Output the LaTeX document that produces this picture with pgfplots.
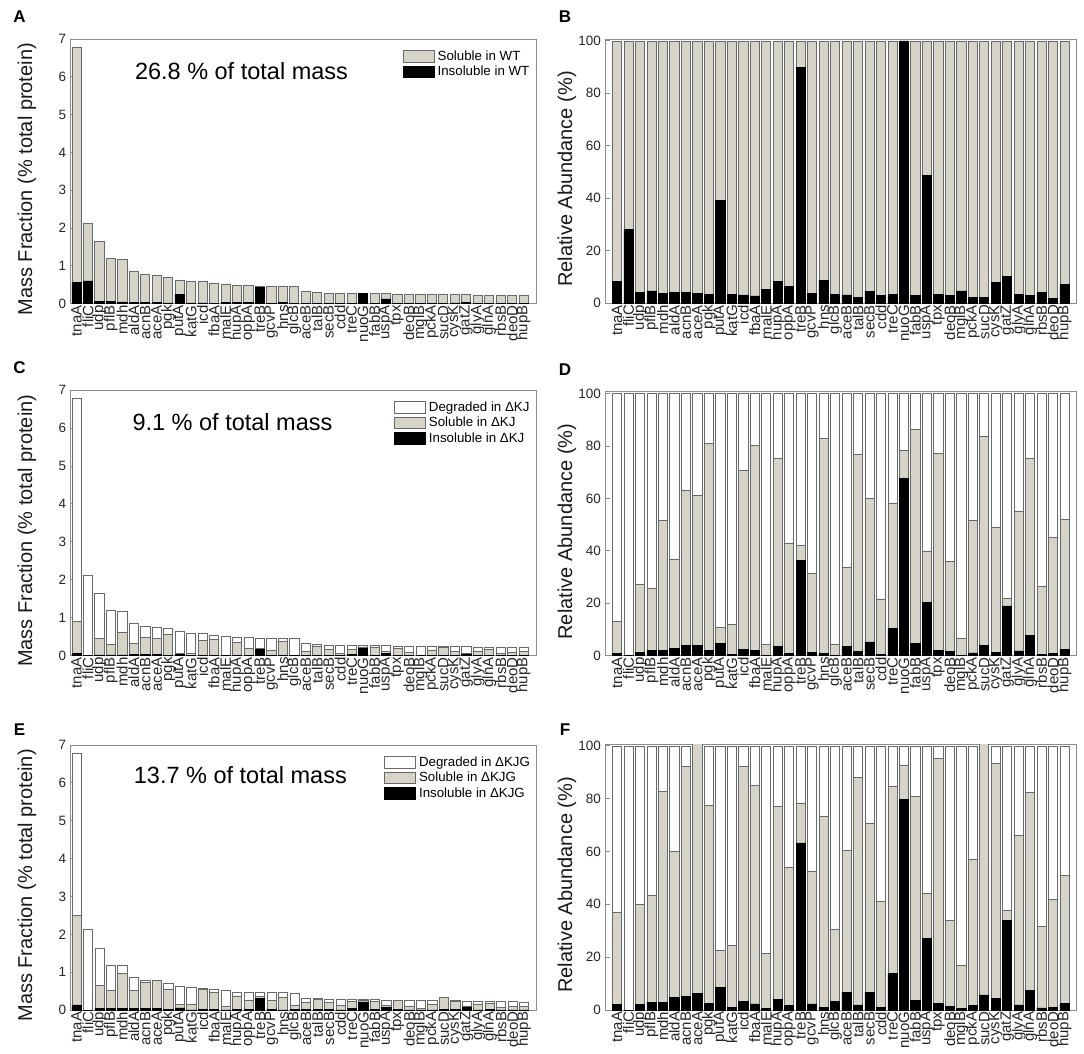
\documentclass[border=0pt]{standalone}
\usepackage{fontspec}
\setmainfont{Liberation Sans}
\usepackage{pgfplots}
\pgfplotsset{compat=1.18}
\usepackage{pgfplotstable}
\definecolor{solgray}{RGB}{214,212,200}
\definecolor{barline}{RGB}{105,105,105}
\definecolor{framegray}{RGB}{140,140,140}

\pgfplotstableread{
x sol ins
1 6.77 0.569
2 2.13 0.603
3 1.64 0.069
4 1.19 0.056
5 1.17 0.046
6 0.86 0.036
7 0.78 0.034
8 0.76 0.030
9 0.71 0.023
10 0.63 0.248
11 0.60 0.021
12 0.58 0.019
13 0.55 0.015
14 0.51 0.027
15 0.48 0.040
16 0.48 0.030
17 0.47 0.423
18 0.47 0.018
19 0.46 0.040
20 0.45 0.016
21 0.32 0.010
22 0.31 0.007
23 0.28 0.013
24 0.28 0.008
25 0.28 0.010
26 0.27 0.270
27 0.27 0.008
28 0.265 0.129
29 0.26 0.009
30 0.26 0.008
31 0.26 0.012
32 0.26 0.006
33 0.25 0.006
34 0.25 0.020
35 0.24 0.025
36 0.23 0.008
37 0.23 0.007
38 0.23 0.010
39 0.22 0.004
40 0.21 0.015
}\tabA

\pgfplotstableread{
x sol ins
1 100 8.4
2 100 28.3
3 100 4.2
4 100 4.7
5 100 3.9
6 100 4.2
7 100 4.3
8 100 3.9
9 100 3.3
10 100 39.3
11 100 3.5
12 100 3.2
13 100 2.8
14 100 5.3
15 100 8.4
16 100 6.3
17 100 90.0
18 100 3.9
19 100 8.6
20 100 3.5
21 100 3.2
22 100 2.4
23 100 4.6
24 100 3.0
25 100 3.4
26 100 100
27 100 3.0
28 100 48.8
29 100 3.3
30 100 3.0
31 100 4.7
32 100 2.3
33 100 2.4
34 100 8.0
35 100 10.4
36 100 3.5
37 100 2.9
38 100 4.2
39 100 1.9
40 100 7.2
}\tabB

\pgfplotstableread{
x deg sol ins
1 6.77 0.894 0.061
2 2.13 0 0
3 1.64 0.449 0.023
4 1.19 0.308 0.023
5 1.17 0.604 0.022
6 0.86 0.317 0.024
7 0.78 0.493 0.030
8 0.76 0.464 0.030
9 0.71 0.575 0.013
10 0.63 0.068 0.029
11 0.60 0.071 0.003
12 0.58 0.410 0.013
13 0.55 0.442 0.010
14 0.51 0.022 0.001
15 0.48 0.362 0.017
16 0.48 0.206 0.005
17 0.47 0.199 0.172
18 0.47 0.147 0.006
19 0.46 0.382 0.005
20 0.45 0.019 0.001
21 0.32 0.108 0.011
22 0.31 0.239 0.005
23 0.28 0.168 0.015
24 0.28 0.061 0.001
25 0.28 0.163 0.029
26 0.27 0.211 0.182
27 0.27 0.233 0.013
28 0.265 0.106 0.054
29 0.26 0.201 0.005
30 0.26 0.094 0.004
31 0.26 0.017 0.001
32 0.26 0.134 0.003
33 0.25 0.209 0.010
34 0.25 0.123 0.003
35 0.24 0.052 0.046
36 0.23 0.127 0.004
37 0.23 0.173 0.018
38 0.23 0.061 0.001
39 0.22 0.099 0.002
40 0.21 0.109 0.005
}\tabC

\pgfplotstableread{
x deg sol ins
1 100 13.2 0.9
2 100 0 0
3 100 27.4 1.4
4 100 25.9 1.9
5 100 51.6 1.9
6 100 36.9 2.8
7 100 63.2 3.9
8 100 61.0 3.9
9 100 81.0 1.9
10 100 10.8 4.6
11 100 11.8 0.5
12 100 70.7 2.3
13 100 80.3 1.9
14 100 4.4 0.2
15 100 75.4 3.6
16 100 42.9 1.0
17 100 42.3 36.5
18 100 31.3 1.3
19 100 83.1 1.0
20 100 4.3 0.2
21 100 33.8 3.4
22 100 77.0 1.5
23 100 60.0 5.3
24 100 21.7 0.4
25 100 58.2 10.3
26 100 78.3 67.5
27 100 86.4 4.7
28 100 40.0 20.2
29 100 77.3 1.9
30 100 36.0 1.5
31 100 6.5 0.2
32 100 51.6 1.1
33 100 83.6 3.8
34 100 49.0 1.2
35 100 21.8 19.0
36 100 55.0 1.8
37 100 75.4 7.7
38 100 26.5 0.5
39 100 45.2 0.9
40 100 52.0 2.3
}\tabD

\pgfplotstableread{
x deg sol ins
1 6.77 2.505 0.135
2 2.13 0 0
3 1.64 0.656 0.036
4 1.19 0.516 0.035
5 1.17 0.969 0.033
6 0.86 0.516 0.040
7 0.78 0.720 0.040
8 0.76 0.783 0.047
9 0.71 0.550 0.018
10 0.63 0.142 0.055
11 0.60 0.148 0.005
12 0.58 0.535 0.019
13 0.55 0.468 0.013
14 0.51 0.109 0.003
15 0.48 0.370 0.020
16 0.48 0.260 0.008
17 0.47 0.368 0.298
18 0.47 0.246 0.011
19 0.46 0.338 0.005
20 0.45 0.137 0.014
21 0.32 0.194 0.022
22 0.31 0.273 0.006
23 0.28 0.198 0.018
24 0.28 0.116 0.003
25 0.28 0.237 0.039
26 0.27 0.250 0.215
27 0.27 0.218 0.010
28 0.265 0.117 0.072
29 0.26 0.248 0.006
30 0.26 0.088 0.003
31 0.26 0.044 0.001
32 0.26 0.149 0.004
33 0.25 0.335 0.014
34 0.25 0.234 0.011
35 0.24 0.090 0.081
36 0.23 0.152 0.004
37 0.23 0.190 0.017
38 0.23 0.073 0.002
39 0.22 0.092 0.002
40 0.21 0.107 0.005
}\tabE

\pgfplotstableread{
x deg sol ins
1 100 37.0 2.0
2 100 0 0
3 100 40.0 2.2
4 100 43.4 2.9
5 100 82.8 2.8
6 100 60.0 4.7
7 100 92.3 5.1
8 100 103 6.2
9 100 77.5 2.5
10 100 22.5 8.7
11 100 24.6 0.9
12 100 92.2 3.2
13 100 85.1 2.3
14 100 21.3 0.5
15 100 77.0 4.1
16 100 54.2 1.6
17 100 78.4 63.3
18 100 52.4 2.3
19 100 73.4 1.1
20 100 30.4 3.2
21 100 60.6 6.8
22 100 88.2 1.9
23 100 70.6 6.6
24 100 41.3 0.9
25 100 84.8 13.8
26 100 92.5 79.7
27 100 80.8 3.7
28 100 44.1 27.2
29 100 95.2 2.4
30 100 33.8 1.3
31 100 17.0 0.5
32 100 57.2 1.6
33 100 134 5.7
34 100 93.4 4.3
35 100 37.6 33.9
36 100 66.0 1.9
37 100 82.4 7.5
38 100 31.8 0.8
39 100 41.8 1.0
40 100 51.0 2.5
}\tabF

\pgfplotsset{
  panel/.style={
    scale only axis,
    anchor=north west,
    ymin=0,
    xtick={1,...,40},
    xticklabels={tnaA,fliC,udp,pflB,mdh,aldA,acnB,aceA,pgk,putA,katG,icd,fbaA,malE,hupA,oppA,treB,gcvP,hns,glcB,aceB,talB,secB,cdd,treC,nuoG,fabB,uspA,tpx,deoB,mglB,pckA,sucD,cysK,gatZ,glyA,glnA,rbsB,deoD,hupB},
    xtick style={draw=none},
    ytick pos=left,
    tick align=inside,
    major tick length=4pt,
    ytick style={color=framegray, line width=0.8pt},
    axis line style={framegray, line width=0.8pt},
    yticklabel style={font=\fontsize{13.5}{15}\selectfont, color=black!85, xshift=-1pt},
    xticklabel style={font=\fontsize{15}{17}\selectfont, color=black!85, rotate=90, anchor=east, inner sep=1.5pt},
    /pgf/number format/assume math mode=true,
    ylabel style={font=\fontsize{20}{24}\selectfont, color=black!90},
    legend style={draw=none, fill=none, at={(rel axis cs:1,1)}, anchor=north east,
      xshift=-5pt, yshift=-10pt, font=\fontsize{13.3}{15}\selectfont,
      row sep=1.5pt, column sep=1.5pt, inner sep=0pt, nodes={inner sep=1.5pt}, cells={anchor=west}},
  },
  left panel/.style={panel, xmin=0.5, xmax=41.1, ymax=7, ytick={0,...,7},
    ylabel={Mass Fraction (\% total protein)},
    ylabel style={at={(axis description cs:-0.094,0.47)}, anchor=center}},
  right panel/.style={panel, xmin=0, xmax=41, ymax=100.7, ytick={0,20,...,100},
    ylabel={Relative Abundance (\%)},
    ylabel style={at={(axis description cs:-0.082,0.47)}, anchor=center}},
  legimg/.style={legend image code/.code={\draw[##1] (0pt,-5.8pt) rectangle (31pt,5.8pt);}},
  wbar/.style={ybar, bar width=0.8, bar shift=0pt, fill=white, draw=barline, line width=0.6pt, legimg},
  gbar/.style={ybar, bar width=0.8, bar shift=0pt, fill=solgray, draw=barline, line width=0.6pt, legimg},
  kbar/.style={ybar, bar width=0.8, bar shift=0pt, fill=black, draw=black, line width=0.6pt, legimg},
}

\begin{document}
\begin{tikzpicture}
\path[use as bounding box] (0pt,0pt) rectangle (1084pt,-1054pt);

\begin{axis}[left panel, at={(70.7pt,-39pt)}, width=465.3pt, height=264.7pt]
\addplot[gbar] table[x=x,y=sol] {\tabA};
\addplot[kbar] table[x=x,y=ins] {\tabA};
\legend{Soluble in WT, Insoluble in WT}
\node[font=\fontsize{23.5}{28}\selectfont] at (rel axis cs:0.367,0.879) {26.8 \% of total mass};
\end{axis}

\begin{axis}[right panel, at={(605.5pt,-39pt)}, width=470.5pt, height=264.3pt]
\addplot[gbar] table[x=x,y=sol] {\tabB};
\addplot[kbar] table[x=x,y=ins] {\tabB};
\end{axis}

\begin{axis}[left panel, at={(70.7pt,-390pt)}, width=465.5pt, height=265.7pt]
\addplot[wbar] table[x=x,y=deg] {\tabC};
\addplot[gbar] table[x=x,y=sol] {\tabC};
\addplot[kbar] table[x=x,y=ins] {\tabC};
\legend{Degraded in ΔKJ, Soluble in ΔKJ, Insoluble in ΔKJ}
\node[font=\fontsize{23.5}{28}\selectfont] at (rel axis cs:0.3475,0.88) {9.1 \% of total mass};
\end{axis}

\begin{axis}[right panel, at={(605.5pt,-391.7pt)}, width=470.5pt, height=264pt]
\addplot[wbar] table[x=x,y=deg] {\tabD};
\addplot[gbar] table[x=x,y=sol] {\tabD};
\addplot[kbar] table[x=x,y=ins] {\tabD};
\end{axis}

\begin{axis}[left panel, at={(70.7pt,-745pt)}, width=466pt, height=265pt]
\addplot[wbar] table[x=x,y=deg] {\tabE};
\addplot[gbar] table[x=x,y=sol] {\tabE};
\addplot[kbar] table[x=x,y=ins] {\tabE};
\legend{Degraded in ΔKJG, Soluble in ΔKJG, Insoluble in ΔKJG}
\node[font=\fontsize{23.5}{28}\selectfont] at (rel axis cs:0.364,0.887) {13.7 \% of total mass};
\end{axis}

\begin{axis}[right panel, at={(605.5pt,-744pt)}, width=470.5pt, height=266pt]
\addplot[wbar] table[x=x,y=deg] {\tabF};
\addplot[gbar] table[x=x,y=sol] {\tabF};
\addplot[kbar] table[x=x,y=ins] {\tabF};
\end{axis}

\node[font=\bfseries\fontsize{17}{20}\selectfont] at (19.5pt,-17pt) {A};
\node[font=\bfseries\fontsize{17}{20}\selectfont] at (565pt,-17pt) {B};
\node[font=\bfseries\fontsize{17}{20}\selectfont] at (19.5pt,-368pt) {C};
\node[font=\bfseries\fontsize{17}{20}\selectfont] at (565pt,-370pt) {D};
\node[font=\bfseries\fontsize{17}{20}\selectfont] at (19.5pt,-730pt) {E};
\node[font=\bfseries\fontsize{17}{20}\selectfont] at (565pt,-730pt) {F};
\end{tikzpicture}
\end{document}
